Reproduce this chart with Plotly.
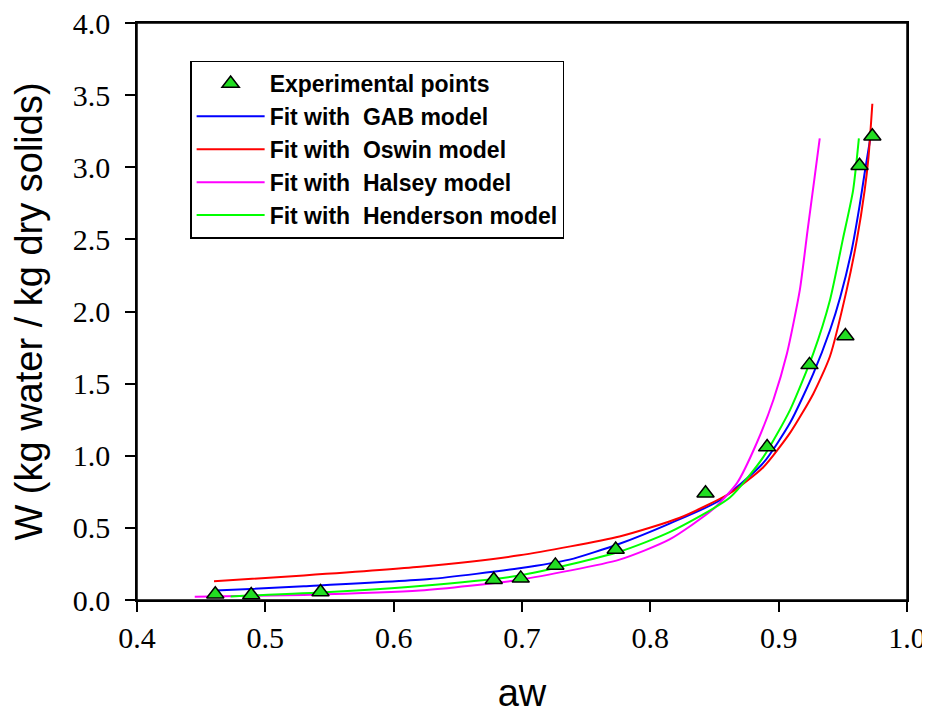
import plotly.graph_objects as go

# Experimental points
exp_aw = [0.461, 0.489, 0.543, 0.678, 0.699, 0.726, 0.773, 0.843, 0.891, 0.924, 0.952, 0.963, 0.973]
exp_w = [0.04, 0.035, 0.056, 0.14, 0.15, 0.24, 0.35, 0.74, 1.06, 1.63, 1.83, 3.01, 3.215]

# GAB fit
gab_aw = [0.461, 0.53, 0.628, 0.698, 0.737, 0.776, 0.815, 0.854, 0.888, 0.909, 0.927, 0.940, 0.948, 0.957, 0.963, 0.967, 0.9725]
gab_w = [0.065, 0.095, 0.145, 0.22, 0.28, 0.39, 0.53, 0.69, 0.95, 1.23, 1.57, 1.87, 2.10, 2.43, 2.73, 2.96, 3.26]

# Oswin fit
osw_aw = [0.46, 0.53, 0.6205, 0.698, 0.776, 0.823, 0.862, 0.888, 0.909, 0.927, 0.940, 0.953, 0.961, 0.967, 0.970, 0.973]
osw_w = [0.13, 0.17, 0.23, 0.31, 0.44, 0.57, 0.74, 0.92, 1.16, 1.43, 1.69, 2.15, 2.50, 2.84, 3.07, 3.44]

# Halsey fit
hal_aw = [0.445, 0.53, 0.6205, 0.698, 0.776, 0.815, 0.849, 0.8675, 0.883, 0.896, 0.9065, 0.9165, 0.9225, 0.928, 0.932]
hal_w = [0.023, 0.035, 0.065, 0.14, 0.28, 0.42, 0.63, 0.81, 1.09, 1.39, 1.71, 2.15, 2.56, 2.93, 3.20]

# Henderson fit
hen_aw = [0.473, 0.55, 0.6205, 0.698, 0.776, 0.815, 0.862, 0.888, 0.909, 0.927, 0.940, 0.950, 0.958, 0.9625]
hen_w = [0.025, 0.055, 0.097, 0.17, 0.335, 0.47, 0.71, 0.99, 1.32, 1.71, 2.08, 2.50, 2.84, 3.20]

x_ticks = [0.4, 0.5, 0.6, 0.7, 0.8, 0.9, 1.0]
y_ticks = [0.0, 0.5, 1.0, 1.5, 2.0, 2.5, 3.0, 3.5, 4.0]

NB = "\u00a0"
fig = go.Figure()
fits = [
    (gab_aw, gab_w, "Fit with" + NB + " GAB model", "#0000ff"),
    (osw_aw, osw_w, "Fit with" + NB + " Oswin model", "#ff0000"),
    (hal_aw, hal_w, "Fit with" + NB + " Halsey model", "#ff00ff"),
    (hen_aw, hen_w, "Fit with" + NB + " Henderson model", "#00ff00"),
]
for i, (xs, ys, nm, col) in enumerate(fits):
    fig.add_trace(go.Scatter(x=xs, y=ys, mode="lines", name=nm, legendrank=10 + i,
                             line=dict(color=col, width=2, shape="spline", smoothing=0.6)))
fig.add_trace(go.Scatter(
    x=exp_aw, y=exp_w, mode="markers", name="Experimental points", legendrank=1,
    marker=dict(symbol="triangle-up", size=15, color="#22dd22",
                line=dict(color="black", width=1.5)),
    cliponaxis=False))

axis_common = dict(
    showline=True, linecolor="black", linewidth=1.5, mirror=True,
    ticks="outside", ticklen=10, tickwidth=1.5, tickcolor="black",
    showgrid=False, zeroline=False, ticklabeloverflow="allow", automargin=False,
    tickfont=dict(family="Liberation Serif, Times New Roman, serif", size=30, color="black"),
)
title_font = dict(family="Liberation Sans, Arial, sans-serif", size=38, color="black")
fig.update_xaxes(range=[0.4, 1.0], tickvals=x_ticks, ticktext=[f"{v:.1f}" for v in x_ticks],
                 title=dict(text="aw", font=title_font, standoff=48),
                 **axis_common)
fig.update_yaxes(range=[0, 4.0], tickvals=y_ticks, ticktext=[f"{v:.1f}" for v in y_ticks],
                 title=dict(text="W (kg water / kg dry solids)", font=title_font, standoff=24),
                 ticklabelstandoff=9,
                 **axis_common)

# plot-area frame
fig.add_shape(type="rect", xref="paper", yref="paper", x0=0, x1=1, y0=0, y1=1,
              line=dict(color="black", width=1.5), layer="above")

fig.update_layout(
    width=922, height=706,
    margin=dict(l=129, r=23, t=15, b=114, autoexpand=False),
    paper_bgcolor="white", plot_bgcolor="white",
    showlegend=True,
    legend=dict(x=0.069, y=0.935, xanchor="left", yanchor="top",
                bordercolor="black", borderwidth=1.5, bgcolor="white",
                font=dict(family="Liberation Sans, Arial, sans-serif", size=23, color="black", weight="bold"),
                tracegroupgap=0, itemwidth=68),
)

fig.write_html("out.html")
